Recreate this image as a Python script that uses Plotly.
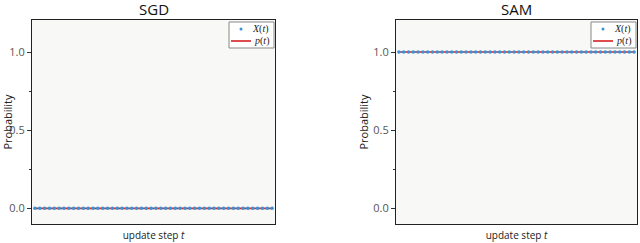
import plotly.graph_objects as go

steps = [0, 1, 2, 3, 4, 5, 6, 7, 8, 9, 10, 11, 12, 13, 14, 15, 16, 17, 18, 19,
         20, 21, 22, 23, 24, 25, 26, 27, 28, 29, 30, 31, 32, 33, 34, 35, 36, 37, 38, 39,
         40, 41, 42, 43, 44, 45, 46, 47, 48, 49]
sgd_X = [0, 0, 0, 0, 0, 0, 0, 0, 0, 0, 0, 0, 0, 0, 0, 0, 0, 0, 0, 0,
         0, 0, 0, 0, 0, 0, 0, 0, 0, 0, 0, 0, 0, 0, 0, 0, 0, 0, 0, 0,
         0, 0, 0, 0, 0, 0, 0, 0, 0, 0]
sgd_p = [0, 0, 0, 0, 0, 0, 0, 0, 0, 0, 0, 0, 0, 0, 0, 0, 0, 0, 0, 0,
         0, 0, 0, 0, 0, 0, 0, 0, 0, 0, 0, 0, 0, 0, 0, 0, 0, 0, 0, 0,
         0, 0, 0, 0, 0, 0, 0, 0, 0, 0]
sam_X = [1, 1, 1, 1, 1, 1, 1, 1, 1, 1, 1, 1, 1, 1, 1, 1, 1, 1, 1, 1,
         1, 1, 1, 1, 1, 1, 1, 1, 1, 1, 1, 1, 1, 1, 1, 1, 1, 1, 1, 1,
         1, 1, 1, 1, 1, 1, 1, 1, 1, 1]
sam_p = [1, 1, 1, 1, 1, 1, 1, 1, 1, 1, 1, 1, 1, 1, 1, 1, 1, 1, 1, 1,
         1, 1, 1, 1, 1, 1, 1, 1, 1, 1, 1, 1, 1, 1, 1, 1, 1, 1, 1, 1,
         1, 1, 1, 1, 1, 1, 1, 1, 1, 1]
titles = ["SGD", "SAM"]
series_names = ["<i>X</i>(<i>t</i>)", "<i>p</i>(<i>t</i>)"]
y_ticks = [0.0, 0.5, 1.0]
y_tick_labels = ["0.0", "0.5", "1.0"]

BLUE = "#3a92d4"
RED = "#d62020"
BG = "#f8f8f6"
FONT = "Open Sans, DejaVu Sans, sans-serif"
SERIF = "Liberation Serif, DejaVu Serif, serif"

W, H = 640, 243
fig = go.Figure()

panels = [("x", "y", sgd_X, sgd_p), ("x2", "y2", sam_X, sam_p)]
for xa, ya, xv, pv in panels:
    fig.add_trace(go.Scatter(x=steps, y=pv, mode="lines", line=dict(color=RED, width=1.6),
                             name=series_names[1], xaxis=xa, yaxis=ya, showlegend=False))
    fig.add_trace(go.Scatter(x=steps, y=xv, mode="markers", marker=dict(color=BLUE, size=3.5),
                             name=series_names[0], xaxis=xa, yaxis=ya, showlegend=False))

top_px, bot_px = 20, 224
ydom = [1 - bot_px / H, 1 - top_px / H]
xpx = [[32, 275], [396, 637]]
xdoms = [[a / W, b / W] for a, b in xpx]

axis_common = dict(showline=True, linecolor="#222", linewidth=1, mirror=True, showgrid=False,
                   zeroline=False)
yax = dict(axis_common, range=[-0.1, 1.205], tickvals=y_ticks, ticktext=y_tick_labels,
           ticks="outside", ticklen=4, tickcolor="#333",
           minor=dict(tickvals=[0.25, 0.75], ticks="outside", ticklen=2, tickcolor="#333"),
           tickfont=dict(family=FONT, size=11, color="#555"),
           title=dict(text="Probability", font=dict(family=FONT, size=11, color="#222"), standoff=2))
xax = dict(axis_common, range=[-0.6, 49.6], showticklabels=False, ticks="",
           title=dict(text="update step <i>t</i>", font=dict(family=FONT, size=10, color="#222"), standoff=7))

def px2x(p):
    return p / W

def px2y(p):
    return 1 - p / H

shapes = []
annotations = []
for i in range(2):
    right = xpx[i][1]
    box_l = right - 46
    shapes.append(dict(type="rect", xref="paper", yref="paper",
                       x0=px2x(box_l), x1=px2x(right - 1), y0=px2y(48), y1=px2y(22),
                       fillcolor="rgba(255,255,255,0.95)", line=dict(color="#888", width=1)))
    shapes.append(dict(type="circle", xref="paper", yref="paper",
                       x0=px2x(box_l + 10.5), x1=px2x(box_l + 13.5), y0=px2y(30.5), y1=px2y(27.5),
                       fillcolor=BLUE, line=dict(width=0)))
    shapes.append(dict(type="line", xref="paper", yref="paper",
                       x0=px2x(box_l + 2), x1=px2x(box_l + 22), y0=px2y(41), y1=px2y(41),
                       line=dict(color=RED, width=1.6)))
    for j, yy in enumerate([29, 41]):
        annotations.append(dict(text=series_names[j], xref="paper", yref="paper",
                                x=px2x(right - 4), y=px2y(yy), xanchor="right", yanchor="middle",
                                showarrow=False, font=dict(family=SERIF, size=10, color="#222")))
    annotations.append(dict(text=titles[i], xref="paper", yref="paper",
                            x=(xdoms[i][0] + xdoms[i][1]) / 2, y=ydom[1], yshift=-1,
                            xanchor="center", yanchor="bottom", showarrow=False,
                            font=dict(family=FONT, size=15, color="#111")))

fig.update_layout(
    width=W, height=H,
    margin=dict(l=0, r=0, t=0, b=0),
    paper_bgcolor="white", plot_bgcolor=BG,
    showlegend=False,
    xaxis=dict(xax, domain=xdoms[0], anchor="y"),
    yaxis=dict(yax, domain=ydom, anchor="x"),
    xaxis2=dict(xax, domain=xdoms[1], anchor="y2"),
    yaxis2=dict(yax, domain=ydom, anchor="x2"),
    shapes=shapes,
    annotations=annotations,
)

fig.write_html("out.html", config={"displayModeBar": False},
               post_script="document.body.style.margin='0px';")
